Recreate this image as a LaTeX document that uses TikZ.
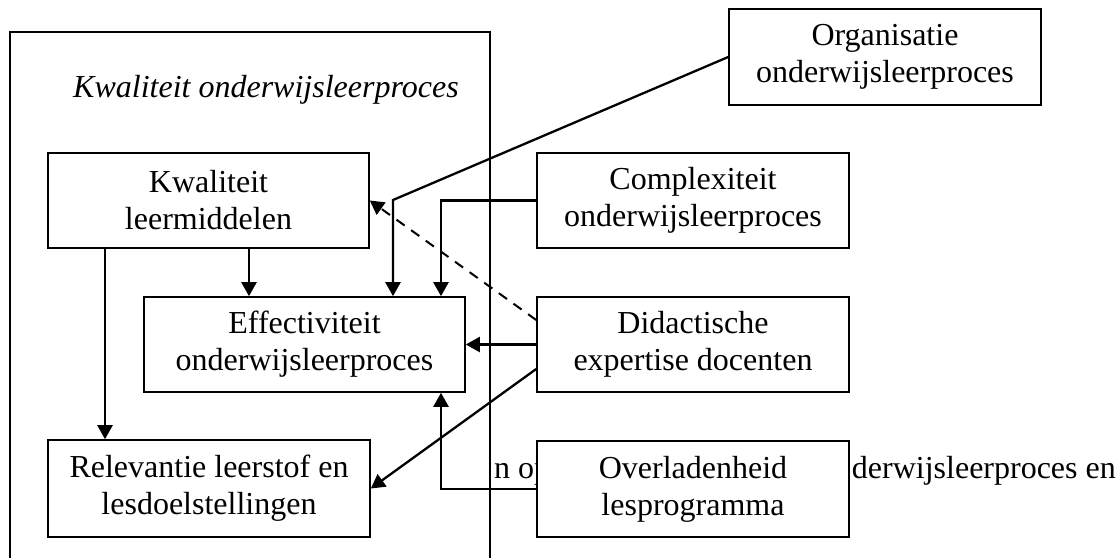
\documentclass[tikz,border=0pt]{standalone}
\usepackage{fontspec}
\setmainfont{Liberation Serif}
\usetikzlibrary{arrows.meta}
\begin{document}
\begin{tikzpicture}[x=1pt,y=-1pt,
  every node/.style={font=\fontsize{32}{37}\selectfont},
  box/.style={draw,line width=1.6pt,fill=white,align=center,inner sep=0pt,
    minimum width=#1,minimum height=95pt},
  conn/.style={line width=2.3pt,-{Triangle[length=14pt,width=15pt]}},
  dconn/.style={line width=2pt,dash pattern=on 10pt off 8pt,-{Triangle[length=14pt,width=15pt]}},
  frame/.style={line width=1.4pt},
  bgtext/.style={inner sep=0pt}
]
\useasboundingbox (0,0) rectangle (1118,558);
% outer frame
\draw[frame] (490,558) -- (490,32) -- (10,32) -- (10,558);
\node[bgtext,anchor=base west] (title) at (73,97) {\itshape Kwaliteit onderwijsleerproces};
% background text partly hidden
\node[bgtext,anchor=base west] (bgl) at (494,478) {n op};
\node[bgtext,anchor=base east] (bgr) at (1116,478) {derwijsleerproces en};
% boxes
\node[box=321pt] (kwal) at (208.5,200.5) {Kwaliteit\\leermiddelen};
\node[box=321pt] (effec) at (304.5,344.5) {Effectiviteit\\onderwijsleerproces};
\node[box=322pt,minimum height=97pt] (relev) at (209,488.5) {Relevantie leerstof en\\lesdoelstellingen};
\node[box=312pt,minimum height=96pt] (organ) at (885,57) {Organisatie\\onderwijsleerproces};
\node[box=312pt] (compl) at (693,200.5) {Complexiteit\\onderwijsleerproces};
\node[box=312pt] (didac) at (693,344.5) {Didactische\\expertise docenten};
\node[box=312pt,minimum height=96pt] (overl) at (693,489) {Overladenheid\\lesprogramma};
% helper coordinates
\coordinate (bendA) at (393,200);
\coordinate (xB) at (441,0);
\coordinate (xC) at (249,0);
\coordinate (xD) at (105,0);
% connectors
\draw[conn] (organ.west) -- (bendA) -- (bendA |- effec.north);
\draw[conn] (compl.west) -| (xB |- effec.north);
\draw[dconn] ([yshift=24.5pt]didac.west) -- (kwal.east);
\draw[conn] (didac.west) -- (effec.east);
\draw[conn] ([yshift=-24.5pt]didac.west) -- (relev.east);
\draw[conn] (overl.west) -| (xB |- effec.south);
\draw[conn] (xC |- kwal.south) -- (xC |- effec.north);
\draw[conn] (xD |- kwal.south) -- (xD |- relev.north);
\end{tikzpicture}
\end{document}
